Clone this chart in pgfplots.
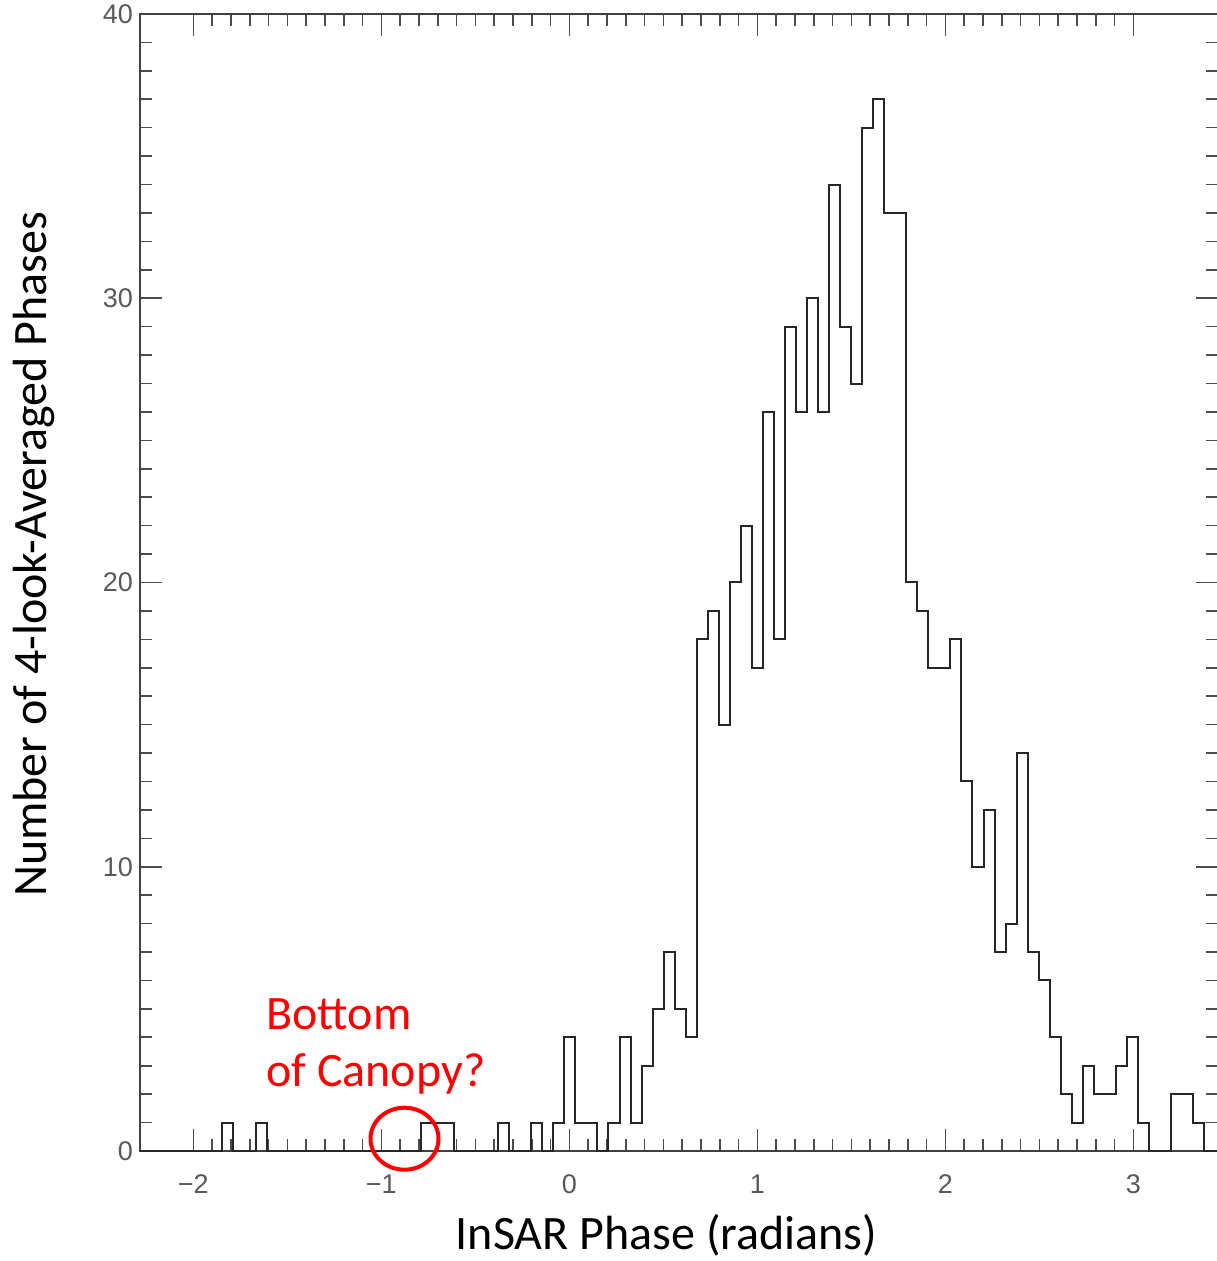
\documentclass[border=0pt]{standalone}
\usepackage{pgfplots}
\pgfplotsset{compat=1.18}
\usepackage{fontspec}
\setmainfont{Carlito}
\newfontfamily\tickfont{Liberation Sans}
\begin{document}
\begin{tikzpicture}[x=1pt,y=1pt]
\path[use as bounding box] (0,0) rectangle (608,630.5);
\begin{axis}[
  at={(70pt,55pt)}, anchor=south west,
  scale only axis, width=539pt, height=568.5pt,
  xmin=-2.2835, xmax=3.4505, ymin=0, ymax=40,
  xtick={-2,-1,0,1,2,3}, xticklabels={−2,−1,0,1,2,3},
  minor x tick num=9,
  ytick={0,10,20,30,40}, yticklabels={0,10,20,30,40},
  minor y tick num=9,
  tick align=inside,
  major tick length=11pt, minor tick length=6pt,
  tick style={black!70, line width=0.8pt},
  axis line style={black!75, line width=1pt},
  ticklabel style={font=\tickfont\fontsize{13.5}{15}\selectfont, text=black!65},
  xticklabel style={yshift=-8.5pt},
  clip=false,
]
\addplot[const plot mark left, black!85, line width=1pt] coordinates {
(-2.2835,0)
(-1.8451,1) (-1.7864,0) (-1.6691,1) (-1.6104,0)
(-0.7891,1) (-0.6130,0) (-0.3784,1) (-0.3197,0)
(-0.2024,1) (-0.1437,0) (-0.0850,1) (-0.0263,4)
(0.0323,1) (0.1497,0) (0.2083,1) (0.2670,4) (0.3257,1)
(0.3844,3) (0.4430,5) (0.5017,7) (0.5604,5) (0.6190,4)
(0.6777,18) (0.7364,19) (0.7950,15) (0.8537,20) (0.9124,22)
(0.9711,17) (1.0297,26) (1.0884,18) (1.1471,29) (1.2057,26)
(1.2644,30) (1.3231,26) (1.3817,34) (1.4404,29) (1.4991,27)
(1.5578,36) (1.6164,37) (1.6751,33) (1.7338,33) (1.7924,20)
(1.8511,19) (1.9098,17) (1.9684,17) (2.0271,18) (2.0858,13)
(2.1445,10) (2.2031,12) (2.2618,7) (2.3205,8) (2.3791,14)
(2.4378,7) (2.4965,6) (2.5551,4) (2.6138,2) (2.6725,1)
(2.7312,3) (2.7898,2) (2.8485,2) (2.9072,3) (2.9658,4)
(3.0245,1) (3.0832,0) (3.2005,2) (3.2592,2) (3.3178,1)
(3.3765,0) (3.4505,0)
};
\draw[red, line width=2pt] (axis cs:-0.8766,0.433) ellipse [x radius=17pt, y radius=15.5pt];
\end{axis}
\node[rotate=90, inner sep=0pt, font=\fontsize{24}{28}\selectfont] at (17,353.25) {Number of 4-look-Averaged Phases};
\node[inner sep=0pt, font=\fontsize{24}{28}\selectfont] at (333.25,13) {InSAR Phase (radians)};
\node[anchor=base west, inner sep=0pt, text=red, font=\fontsize{24}{28}\selectfont] at (133,115.5) {Bottom};
\node[anchor=base west, inner sep=0pt, text=red, font=\fontsize{24}{28}\selectfont] at (133,87) {of Canopy?};
\end{tikzpicture}
\end{document}
